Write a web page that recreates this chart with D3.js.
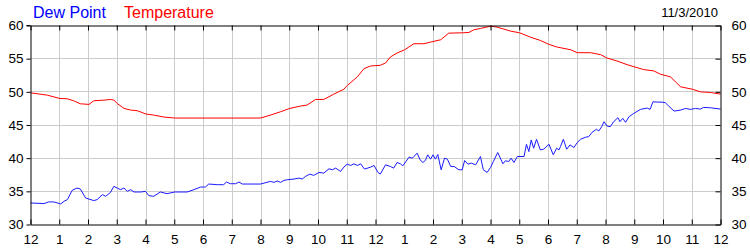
<!DOCTYPE html>
<html><head><meta charset="utf-8">
<script src="https://cdn.jsdelivr.net/npm/d3@7"></script>
<style>
html,body{margin:0;padding:0;background:#fff;}
svg{display:block;font-family:"Liberation Sans",Arial,sans-serif;}
</style></head>
<body><svg id="c" width="750" height="250"></svg>
<script>
// ---- data (minutes after midnight, degrees F) ----
const dateLabel = "11/3/2010";
const seriesNames = ["Dew Point", "Temperature"];
const hourLabels = ["12","1","2","3","4","5","6","7","8","9","10","11","12","1","2","3","4","5","6","7","8","9","10","11","12"];
const yTicks = [30, 35, 40, 45, 50, 55, 60];

const tempMinutes = [0,35,61,77,90,104,122,132,153,167,174,181,195,209,223,241,257,278,301,480,501,522,541,563,577,595,612,633,654,661,682,696,710,730,741,751,765,781,800,821,835,856,873,901,915,925,939,960,974,1002,1021,1043,1064,1082,1099,1127,1141,1169,1190,1203,1224,1245,1261,1280,1301,1315,1336,1346,1357,1381,1398,1419,1440];
const tempValues = [49.85,49.5,49.0,48.95,48.65,48.2,48.1,48.65,48.75,48.85,48.75,48.25,47.5,47.25,47.15,46.65,46.5,46.2,46.05,46.05,46.5,47.0,47.5,47.85,48.0,48.85,48.85,49.65,50.4,50.95,52.25,53.5,53.9,54.0,54.35,55.25,55.85,56.35,57.25,57.25,57.5,57.85,58.85,58.9,58.95,59.35,59.55,59.9,59.75,59.15,58.9,58.25,57.75,57.15,56.75,56.35,55.9,55.9,55.6,55.1,54.65,54.1,53.75,53.35,53.15,52.65,52.25,51.5,50.75,50.4,50.0,49.9,49.65];

const dewMinutes = [0,28,38,49,63,70,77,87,97,104,115,132,139,150,157,167,174,181,188,195,202,209,216,230,240,247,257,271,285,301,327,341,355,365,372,390,403,409,417,428,435,442,480,501,508,515,522,529,536,550,560,567,574,583,591,602,612,623,630,637,647,654,661,668,675,682,689,697,710,717,725,730,741,751,758,765,772,777,790,797,800,807,813,819,824,829,835,840,845,850,857,864,870,877,884,894,901,906,913,920,929,939,945,953,960,966,975,986,991,998,1003,1009,1016,1030,1035,1040,1045,1050,1056,1064,1071,1082,1091,1098,1103,1106,1112,1119,1126,1134,1141,1148,1158,1165,1172,1181,1186,1192,1197,1203,1210,1217,1226,1230,1236,1242,1249,1259,1273,1287,1293,1299,1308,1318,1325,1332,1343,1357,1367,1377,1388,1398,1405,1419,1440];
const dewValues = [33.25,33.15,33.4,33.4,33.1,33.5,33.75,35.15,35.5,35.35,34.0,33.6,33.75,34.5,34.25,34.85,35.75,35.5,35.25,35.5,35.0,35.25,34.9,34.9,35.0,34.35,34.25,34.9,34.65,34.9,34.9,35.25,35.65,35.65,36.1,36.0,36.0,36.4,36.15,36.15,36.4,36.1,36.1,36.5,36.35,36.55,36.35,36.65,36.75,36.85,37.0,36.85,37.25,37.6,37.4,37.85,37.75,38.4,38.25,38.5,38.0,38.65,39.1,38.9,39.15,38.9,39.15,38.35,38.65,38.9,37.85,37.6,39.0,38.75,38.5,39.35,39.15,38.85,40.15,40.0,40.25,40.75,39.75,39.35,39.65,40.5,39.85,40.5,39.85,40.55,38.25,40.0,39.85,38.75,38.75,38.25,38.25,39.65,39.1,39.25,39.0,40.25,38.25,37.85,38.6,39.5,40.85,39.15,39.6,39.5,40.0,39.35,40.25,40.25,42.1,41.0,42.75,41.5,42.85,41.25,41.35,42.1,40.5,41.5,41.25,41.75,42.85,41.35,42.0,41.6,42.35,42.85,43.15,43.25,43.9,44.35,44.1,44.75,45.5,44.85,44.75,45.5,46.1,45.5,46.0,45.4,46.25,46.75,47.35,47.55,47.35,48.5,48.45,48.45,48.35,47.85,47.1,47.25,47.5,47.35,47.5,47.4,47.65,47.6,47.4];

// ---- layout ----
const L = 30.5, R = 720.5, T = 25.5, B = 224.5;
const svg = d3.select("#c");
const x = d3.scaleLinear().domain([0, 1440]).range([L, R]);
const y = d3.scaleLinear().domain([30, 60]).range([B, T]);
const hourTicks = d3.range(0, 1441, 60);

// grid
svg.append("g").selectAll("line").data(hourTicks.slice(1, -1)).join("line")
  .attr("x1", d => Math.round(x(d)) + 0.5).attr("x2", d => Math.round(x(d)) + 0.5)
  .attr("y1", T).attr("y2", B).attr("stroke", "#cccccc");
svg.append("g").selectAll("line").data(yTicks.slice(1, -1)).join("line")
  .attr("y1", d => Math.round(y(d) - 0.5) + 0.5).attr("y2", d => Math.round(y(d) - 0.5) + 0.5)
  .attr("x1", L).attr("x2", R).attr("stroke", "#cccccc");

// series lines
const line = d3.line().x(d => x(d[0])).y(d => y(d[1]));
svg.append("path").datum(d3.zip(tempMinutes, tempValues))
  .attr("d", line).attr("fill", "none").attr("stroke", "#ff0000").attr("stroke-width", 1);
svg.append("path").datum(d3.zip(dewMinutes, dewValues))
  .attr("d", line).attr("fill", "none").attr("stroke", "#1a1aff").attr("stroke-width", 1);

// axes via d3
const fmtHour = (d, i) => hourLabels[i];
const gBottom = svg.append("g").attr("transform", `translate(0,${B})`)
  .call(d3.axisBottom(x).tickValues(hourTicks).tickFormat(fmtHour).tickSizeInner(-5).tickSizeOuter(0).tickPadding(10));
const gTop = svg.append("g").attr("transform", `translate(0,${T})`)
  .call(d3.axisTop(x).tickValues(hourTicks).tickFormat("").tickSizeInner(-5).tickSizeOuter(0));
const gLeft = svg.append("g").attr("transform", `translate(${L},0)`)
  .call(d3.axisLeft(y).tickValues(yTicks).tickSizeInner(4).tickSizeOuter(0).tickPadding(3));
const gRight = svg.append("g").attr("transform", `translate(${R},0)`)
  .call(d3.axisRight(y).tickValues(yTicks).tickSizeInner(-5).tickSizeOuter(0).tickPadding(11));

[gBottom, gTop, gLeft, gRight].forEach(g => {
  g.selectAll(".domain").attr("stroke", "#000").attr("stroke-width", 1);
  g.selectAll(".tick line").attr("stroke", "#000");
  g.selectAll("text").attr("fill", "#000").style("font-family", '"Liberation Sans",Arial,sans-serif').style("font-size", "13.5px");
});
svg.append("line").attr("x1", L - 4).attr("x2", L).attr("y1", T).attr("y2", T).attr("stroke", "#000");

// titles
svg.append("text").attr("x", 33).attr("y", 18).attr("fill", "#0000ff")
  .style("font-size", "16px").text(seriesNames[0]);
svg.append("text").attr("x", 124).attr("y", 18).attr("fill", "#ff0000")
  .style("font-size", "16px").text(seriesNames[1]);
svg.append("text").attr("x", 718).attr("y", 17).attr("text-anchor", "end").attr("fill", "#000")
  .style("font-size", "13px").text(dateLabel);
</script></body></html>
